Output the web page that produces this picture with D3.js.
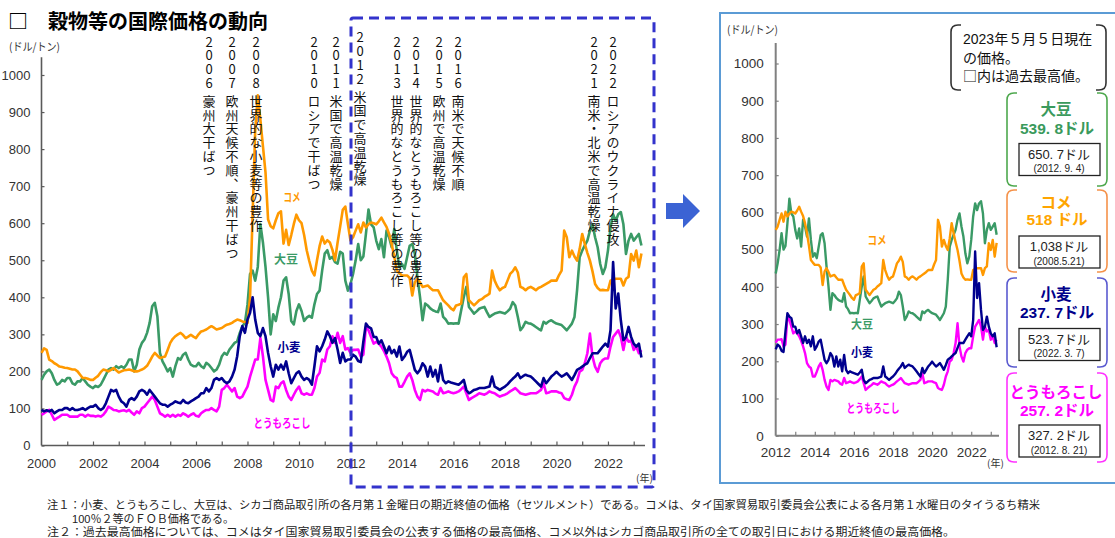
<!DOCTYPE html>
<html><head><meta charset="utf-8">
<script src="https://cdn.jsdelivr.net/npm/d3@7"></script>
<style>
body{margin:0;background:#fff;}
svg{display:block;}
</style></head><body>
<svg id="chart" width="1115" height="538"></svg>
<script>
// Monthly-ish price series (US$/t), ten samples per year from 2000, last row is 2023.
const firstYear = 2000;

const rice = [
  [250, 262, 258, 232, 228, 222, 218, 213, 212, 210],
  [209, 207, 205, 205, 200, 191, 182, 182, 180, 177],
  [177, 183, 188, 198, 205, 203, 200, 204, 209, 203],
  [197, 200, 203, 204, 205, 203, 200, 200, 202, 205],
  [209, 215, 227, 240, 250, 243, 236, 238, 240, 258],
  [277, 288, 295, 300, 304, 298, 290, 294, 299, 294],
  [290, 300, 308, 310, 313, 318, 322, 318, 313, 315],
  [317, 322, 326, 328, 331, 336, 340, 338, 335, 333],
  [331, 400, 625, 850, 945, 880, 808, 737, 610, 592],
  [586, 608, 627, 632, 545, 582, 541, 568, 598, 623],
  [608, 600, 568, 527, 498, 472, 459, 500, 538, 564],
  [545, 554, 548, 528, 500, 548, 591, 636, 645, 598],
  [553, 562, 580, 597, 575, 602, 589, 597, 602, 600],
  [597, 605, 615, 602, 590, 571, 544, 510, 472, 465],
  [459, 459, 459, 452, 405, 441, 450, 440, 428, 430],
  [432, 425, 419, 419, 419, 405, 392, 385, 378, 370],
  [365, 378, 380, 383, 454, 463, 392, 385, 378, 385],
  [392, 395, 401, 405, 410, 472, 445, 430, 419, 425],
  [428, 445, 463, 470, 481, 467, 428, 425, 419, 425],
  [428, 424, 419, 425, 428, 432, 436, 440, 445, 445],
  [445, 460, 472, 580, 562, 508, 526, 510, 499, 530],
  [571, 544, 520, 499, 470, 436, 425, 419, 420, 419],
  [419, 445, 448, 450, 450, 450, 432, 450, 455, 517],
  [499, 526, 481, 518]
];

const soybean = [
  [177, 191, 200, 205, 195, 177, 164, 168, 177, 173],
  [182, 182, 168, 164, 173, 173, 182, 173, 164, 159],
  [155, 161, 158, 164, 177, 191, 205, 209, 205, 214],
  [209, 214, 209, 218, 232, 232, 200, 218, 259, 277],
  [286, 304, 331, 376, 385, 349, 250, 227, 214, 200],
  [209, 186, 214, 236, 232, 245, 250, 232, 218, 214],
  [214, 223, 214, 209, 223, 218, 209, 200, 205, 218],
  [240, 250, 245, 259, 268, 277, 281, 304, 322, 331],
  [380, 463, 472, 445, 482, 598, 548, 482, 400, 300],
  [354, 336, 372, 400, 445, 454, 409, 336, 327, 363],
  [381, 363, 336, 345, 350, 345, 381, 409, 418, 472],
  [518, 527, 504, 509, 495, 491, 523, 518, 445, 418],
  [436, 463, 499, 544, 500, 510, 571, 637, 597, 589],
  [553, 530, 557, 508, 580, 562, 535, 584, 526, 481],
  [490, 477, 508, 539, 544, 517, 454, 401, 338, 383],
  [378, 370, 365, 362, 360, 383, 347, 340, 329, 330],
  [329, 330, 329, 365, 400, 428, 374, 365, 356, 362],
  [369, 372, 374, 360, 347, 352, 356, 358, 360, 358],
  [356, 362, 369, 387, 378, 347, 311, 320, 334, 330],
  [329, 325, 320, 315, 311, 334, 329, 335, 338, 333],
  [329, 327, 325, 318, 311, 320, 329, 347, 419, 508],
  [526, 540, 553, 580, 597, 562, 535, 490, 463, 481],
  [526, 589, 624, 606, 624, 630, 597, 517, 553, 571],
  [553, 562, 571, 539.8]
];

const wheat = [
  [96, 92, 95, 92, 96, 87, 92, 96, 96, 101],
  [101, 96, 101, 96, 96, 98, 101, 96, 101, 105],
  [105, 110, 101, 96, 101, 114, 132, 150, 146, 150],
  [132, 119, 114, 105, 123, 128, 123, 132, 146, 150],
  [146, 137, 150, 141, 132, 123, 114, 110, 110, 105],
  [110, 114, 119, 116, 114, 123, 116, 114, 119, 123],
  [128, 132, 141, 141, 155, 146, 155, 177, 182, 177],
  [182, 173, 168, 173, 186, 205, 241, 295, 322, 304],
  [340, 358, 400, 340, 304, 295, 317, 295, 250, 214],
  [186, 218, 205, 218, 205, 227, 195, 168, 182, 195],
  [200, 186, 177, 182, 177, 164, 214, 268, 254, 268],
  [286, 308, 295, 277, 290, 259, 223, 250, 227, 232],
  [232, 245, 240, 228, 225, 280, 329, 320, 316, 293],
  [293, 275, 284, 267, 249, 267, 249, 258, 240, 267],
  [231, 240, 253, 258, 231, 204, 195, 204, 222, 213],
  [186, 213, 186, 204, 173, 217, 177, 168, 173, 170],
  [168, 166, 164, 170, 177, 150, 141, 145, 150, 152],
  [155, 155, 155, 157, 159, 186, 159, 155, 150, 155],
  [159, 165, 173, 180, 186, 195, 182, 187, 191, 188],
  [186, 180, 173, 166, 159, 182, 168, 177, 186, 192],
  [199, 192, 186, 190, 195, 186, 177, 190, 204, 208],
  [213, 218, 222, 236, 249, 249, 249, 258, 267, 275],
  [267, 311, 495, 370, 410, 338, 284, 293, 320, 293],
  [275, 267, 275, 237.7]
];

const corn = [
  [83, 87, 92, 96, 83, 69, 74, 78, 83, 83],
  [83, 78, 78, 78, 78, 83, 83, 78, 83, 80],
  [80, 78, 80, 78, 83, 92, 105, 101, 96, 95],
  [92, 94, 95, 92, 96, 89, 83, 92, 87, 101],
  [105, 114, 123, 132, 123, 105, 87, 83, 78, 83],
  [78, 83, 78, 83, 80, 87, 83, 78, 83, 87],
  [80, 78, 87, 92, 96, 96, 101, 96, 92, 105],
  [150, 155, 164, 155, 146, 155, 132, 128, 132, 146],
  [159, 186, 209, 232, 232, 290, 241, 177, 150, 123],
  [119, 159, 155, 168, 173, 150, 132, 123, 137, 150],
  [159, 141, 137, 141, 137, 137, 155, 186, 196, 232],
  [227, 259, 268, 295, 277, 304, 277, 295, 259, 263],
  [250, 258, 258, 259, 240, 245, 320, 311, 293, 275],
  [280, 275, 267, 255, 240, 222, 195, 186, 182, 159],
  [159, 172, 186, 195, 177, 150, 132, 123, 150, 146],
  [150, 148, 146, 140, 137, 155, 141, 143, 146, 143],
  [141, 143, 146, 152, 159, 141, 123, 128, 132, 136],
  [141, 139, 137, 141, 146, 143, 141, 136, 132, 135],
  [137, 141, 146, 150, 155, 148, 141, 139, 137, 139],
  [141, 141, 141, 145, 150, 168, 141, 143, 146, 146],
  [146, 143, 141, 128, 125, 123, 137, 159, 173, 199],
  [204, 222, 249, 302, 240, 213, 199, 222, 231, 235],
  [235, 267, 293, 302, 311, 293, 258, 293, 280, 284],
  [258, 267, 249, 257.2]
];

// Commodity names, current prices and record highs shown in the side boxes
const names = ["大豆", "コメ", "小麦", "とうもろこし"];
const currentPrice = ["539. 8ドル", "518 ドル", "237. 7ドル", "257. 2ドル"];
const recordPrice = ["650. 7ドル", "1,038ドル", "523. 7ドル", "327. 2ドル"];
const recordDate = ["(2012. 9. 4)", "(2008.5.21)", "(2022. 3. 7)", "(2012. 8. 21)"];

// Event notes written vertically over the long-term chart
const eventYears = ["2006", "2007", "2008", "2010", "2011", "2012", "2013", "2014", "2015", "2016", "2021", "2022"];
const eventTexts = ["豪州大干ばつ", "欧州天候不順、豪州干ばつ", "世界的な小麦等の豊作", "ロシアで干ばつ",
  "米国で高温乾燥", "米国で高温乾燥", "世界的なとうもろこし等の豊作", "世界的なとうもろこし等の豊作",
  "欧州で高温乾燥", "南米で天候不順", "南米・北米で高温乾燥", "ロシアのウクライナ侵攻"];

const yTicks = [0, 100, 200, 300, 400, 500, 600, 700, 800, 900, 1000];

const noteLines = ["2023年５月５日現在", "の価格。", "□内は過去最高値。"];

const footnotes = [
  "注１：小麦、とうもろこし、大豆は、シカゴ商品取引所の各月第１金曜日の期近終値の価格（セツルメント）である。コメは、タイ国家貿易取引委員会公表による各月第１水曜日のタイうるち精米",
  "100％２等のＦＯＢ価格である。",
  "注２：過去最高価格については、コメはタイ国家貿易取引委員会の公表する価格の最高価格、コメ以外はシカゴ商品取引所の全ての取引日における期近終値の最高価格。"
];

// ---------------------------------------------------------------
const JP = "'Noto Sans CJK JP','Noto Sans',sans-serif";
// Latin-first stack for tightly stacked lines (kana/kanji fall back to Noto Sans CJK JP)
const MIX = "'Liberation Sans','Noto Sans CJK JP',sans-serif";
const NUM = "'Liberation Sans Narrow','Liberation Sans',Arial,sans-serif";
const col = { soy: "#3a9a66", rice: "#ff9900", wheat: "#00008e", corn: "#ff00ff" };

function toPoints(rows) {
  const pts = [];
  rows.forEach((row, k) => row.forEach((v, i) => pts.push({ t: firstYear + k + i / 10, v })));
  return pts;
}
const series = [
  { key: "soy", pts: toPoints(soybean) },
  { key: "rice", pts: toPoints(rice) },
  { key: "corn", pts: toPoints(corn) },
  { key: "wheat", pts: toPoints(wheat) }
];

const svg = d3.select("#chart");
svg.append("rect").attr("width", 1115).attr("height", 538).attr("fill", "#fff");

function drawPanel(cfg) {
  const x = d3.scaleLinear().domain([cfg.t0, cfg.t1]).range([cfg.left, cfg.right]);
  const y = d3.scaleLinear().domain([0, 1000]).range([cfg.bottom, cfg.top]);
  const g = svg.append("g");

  // axes
  const yAxis = d3.axisLeft(y).tickValues(yTicks).tickFormat(d3.format("d"))
    .tickSizeInner(-3).tickSizeOuter(0).tickPadding(cfg.yPad);
  const gy = g.append("g").attr("transform", `translate(${cfg.left},0)`).call(yAxis);
  gy.select(".domain").remove();
  gy.selectAll("line").attr("stroke", cfg.axisColor).attr("stroke-width", 1.2);
  gy.selectAll("text").attr("font-family", NUM).attr("font-size", cfg.tickFont).attr("fill", "#333");

  const years = d3.range(cfg.t0 + 1, 2024);
  const xAxis = d3.axisBottom(x).tickValues(years).tickSizeInner(-4).tickSizeOuter(0)
    .tickFormat(d => (d % 2 === 0 ? d : ""));
  const gx = g.append("g").attr("transform", `translate(0,${cfg.bottom})`).call(xAxis);
  gx.select(".domain").remove();
  gx.selectAll("line").attr("stroke", cfg.axisColor).attr("stroke-width", 1.2);
  gx.selectAll("text").attr("font-family", NUM).attr("font-size", cfg.tickFont).attr("fill", "#333")
    .attr("y", cfg.xLabelY - cfg.bottom).attr("dy", "0.35em");
  g.append("text").attr("x", x(cfg.t0)).attr("y", cfg.xLabelY).attr("dy", "0.35em")
    .attr("text-anchor", "middle").attr("font-family", NUM).attr("font-size", cfg.tickFont)
    .attr("fill", "#333").text(cfg.t0);

  g.append("line").attr("x1", cfg.left).attr("x2", cfg.left).attr("y1", cfg.bottom).attr("y2", y(cfg.yMaxLine))
    .attr("stroke", cfg.axisColor).attr("stroke-width", cfg.axisWidth);
  g.append("line").attr("x1", cfg.left).attr("x2", cfg.xEnd).attr("y1", cfg.bottom).attr("y2", cfg.bottom)
    .attr("stroke", cfg.axisColor).attr("stroke-width", cfg.axisWidth);

  // price lines
  const line = d3.line().x(d => x(d.t)).y(d => y(d.v));
  series.forEach(s => {
    g.append("path").datum(s.pts.filter(d => d.t >= cfg.t0 - 1e-6))
      .attr("d", line).attr("fill", "none").attr("stroke", col[s.key])
      .attr("stroke-width", cfg.lineWidth).attr("stroke-linejoin", "round");
  });

  // unit labels
  g.append("text").attr("x", cfg.unitX).attr("y", cfg.unitY).attr("dy", "0.35em")
    .attr("font-family", JP).attr("font-size", 11).attr("fill", "#333")
    .attr("textLength", 51).attr("lengthAdjust", "spacingAndGlyphs").text("(ドル/トン)");
  g.append("text").attr("x", cfg.nenX).attr("y", cfg.nenY).attr("dy", "0.35em")
    .attr("font-family", JP).attr("font-size", 10).attr("fill", "#333").text("(年)");

  // series labels
  cfg.labels.forEach(l => {
    g.append("text").attr("x", l.x).attr("y", l.y).attr("dy", "0.35em").attr("text-anchor", "middle")
      .attr("font-family", JP).attr("font-weight", 700).attr("font-size", 12).attr("fill", col[l.key])
      .attr("textLength", l.w).attr("lengthAdjust", "spacingAndGlyphs").text(l.text);
  });
  return { x, y };
}

// ---------------- long-term panel ----------------
drawPanel({
  t0: 2000, t1: 2023.4, left: 41.5, right: 644, top: 75, bottom: 445.5, yMaxLine: 1048, xEnd: 645,
  yPad: 11, tickFont: 13, xLabelY: 463, axisColor: "#5a5a5a", axisWidth: 1.6, lineWidth: 2.6,
  unitX: 9, unitY: 47, nenX: 636, nenY: 478,
  labels: [
    { key: "rice", text: names[1], x: 292, y: 198, w: 17 },
    { key: "soy", text: names[0], x: 286, y: 260, w: 24 },
    { key: "wheat", text: names[2], x: 289, y: 348, w: 23 },
    { key: "corn", text: names[3], x: 282, y: 424, w: 57 }
  ]
});

// ---------------- recent panel ----------------
drawPanel({
  t0: 2012, t1: 2023.4, left: 775.7, right: 998.6, top: 63.5, bottom: 435.7, yMaxLine: 1055, xEnd: 999,
  yPad: 12, tickFont: 13.5, xLabelY: 452, axisColor: "#808080", axisWidth: 2, lineWidth: 2.4,
  unitX: 727, unitY: 30, nenX: 987, nenY: 463,
  labels: [
    { key: "rice", text: names[1], x: 877, y: 241, w: 19 },
    { key: "soy", text: names[0], x: 862, y: 325, w: 22 },
    { key: "wheat", text: names[2], x: 862, y: 353, w: 22 },
    { key: "corn", text: names[3], x: 873, y: 409, w: 53 }
  ]
});

// ---------------- title ----------------
svg.append("text").attr("x", 8).attr("y", 22).attr("dy", "0.35em")
  .attr("font-family", JP).attr("font-weight", 700).attr("font-size", 20).attr("fill", "#000")
  .text("□　穀物等の国際価格の動向");

// ---------------- vertical event notes ----------------
const eventX = [209, 232, 256, 314, 336, 360, 397, 416, 439, 458, 594, 613];
const step = 13.8;
function vtext(x, yTop, str) {
  return svg.append("text").attr("x", x).attr("y", yTop)
    .style("writing-mode", "vertical-rl").style("text-orientation", "upright")
    .attr("font-family", JP).attr("font-size", 13).attr("letter-spacing", step - 13)
    .attr("fill", "#111").text(str);
}
eventYears.forEach((yr, k) => {
  const c0 = yr === "2012" ? 37.5 : 41.7;      // centre of the first digit
  vtext(eventX[k], c0 - 6.5, yr);
  vtext(eventX[k], c0 + 4 * step + 4 - 6.5, eventTexts[k]);
});

// dashed frame around the period shown on the right
svg.append("rect").attr("x", 351).attr("y", 18).attr("width", 303).attr("height", 469).attr("rx", 2)
  .attr("fill", "none").attr("stroke", "#3333cc").attr("stroke-width", 3).attr("stroke-dasharray", "10,6");

// arrow
svg.append("path").attr("d", "M666,203 H683 V194 L700,211 L683,228 V219 H666 Z").attr("fill", "#3b63d4");

// right frame
svg.append("rect").attr("x", 720).attr("y", 13).attr("width", 410).attr("height", 470)
  .attr("fill", "none").attr("stroke", "#5b9bd5").attr("stroke-width", 2);

// ---------------- bracketed boxes ----------------
function bracket(x0, y0, x1, y1, color) {
  const r = 7, e = 3;
  const p = `M${x0 + r + e},${y0} H${x0 + r} Q${x0},${y0} ${x0},${y0 + r} V${y1 - r} Q${x0},${y1} ${x0 + r},${y1} H${x0 + r + e}` +
    ` M${x1 - r - e},${y0} H${x1 - r} Q${x1},${y0} ${x1},${y0 + r} V${y1 - r} Q${x1},${y1} ${x1 - r},${y1} H${x1 - r - e}`;
  svg.append("path").attr("d", p).attr("fill", "none").attr("stroke", color).attr("stroke-width", 1.6);
}

bracket(951, 25, 1106, 90, "#333");
const note = svg.append("text").attr("font-family", MIX).attr("font-size", 14).attr("fill", "#111");
noteLines.forEach((t, i) => {
  const ln = note.append("tspan").attr("x", 963).attr("y", 39.5 + i * 18.3).attr("dy", "0.35em");
  if (t.startsWith("□")) {
    ln.append("tspan").attr("font-family", JP).text("□");
    ln.append("tspan").text(t.slice(1));
  } else {
    ln.text(t);
  }
});

const boxes = [
  { key: "soy", top: 93, bottom: 186, bcol: "#4ea84e", tcol: "#3a9a5c" },
  { key: "rice", top: 190, bottom: 272, bcol: "#f5924a", tcol: "#ffa500" },
  { key: "wheat", top: 278, bottom: 367, bcol: "#5a5ad0", tcol: "#00008b" },
  { key: "corn", top: 373, bottom: 462, bcol: "#ff33ff", tcol: "#ff00ff" }
];
const headY = [110, 203, 295, 393];
const valY = [128.5, 220, 313, 411];
const innerTop = [143.5, 236, 328.5, 425];
boxes.forEach((b, i) => {
  bracket(1007, b.top, 1107, b.bottom, b.bcol);
  const head = svg.append("text").attr("text-anchor", "middle")
    .attr("font-family", MIX).attr("font-weight", 700).attr("font-size", 15.5).attr("fill", b.tcol);
  head.append("tspan").attr("x", 1056).attr("y", headY[i]).attr("dy", "0.35em").text(names[i]);
  head.append("tspan").attr("x", 1057).attr("y", valY[i]).attr("dy", "0.35em").text(currentPrice[i]);

  svg.append("rect").attr("x", 1019).attr("y", innerTop[i]).attr("width", 81).attr("height", 32)
    .attr("fill", "#fff").attr("stroke", "#222").attr("stroke-width", 1.3);
  const rec = svg.append("text").attr("text-anchor", "middle").attr("font-family", MIX).attr("fill", "#222");
  rec.append("tspan").attr("x", 1059).attr("y", innerTop[i] + 10.5).attr("dy", "0.35em")
    .attr("font-size", 13).text(recordPrice[i]);
  rec.append("tspan").attr("x", 1059).attr("y", innerTop[i] + 25).attr("dy", "0.35em")
    .attr("font-size", 10).text(recordDate[i]);
});

// ---------------- footnotes ----------------
const fnX = [47, 72, 47], fnY = [505, 519, 532], fnW = [993, 162, 908];
const fn = svg.append("text").attr("font-family", MIX).attr("font-size", 11).attr("fill", "#222");
footnotes.forEach((t, i) => {
  fn.append("tspan").attr("x", fnX[i]).attr("y", fnY[i]).attr("dy", "0.35em")
    .attr("textLength", fnW[i]).attr("lengthAdjust", "spacingAndGlyphs").text(t);
});
</script>
</body></html>
